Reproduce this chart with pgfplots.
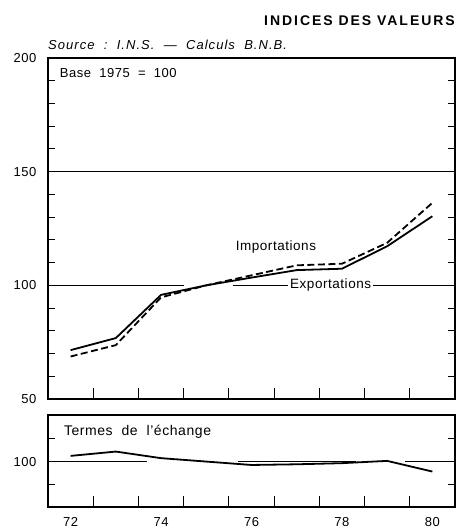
\documentclass[border=0pt]{standalone}
\usepackage{fontspec}
\setmainfont{Liberation Sans}[LetterSpace=4]
\usepackage{pgfplots}
\pgfplotsset{compat=1.18}
\begin{document}
\begin{tikzpicture}
\useasboundingbox (0,0) rectangle (456pt,531pt);
\pgfplotsset{
  panel/.style={
    anchor=south west, scale only axis, width=407pt,
    xmin=71.5, xmax=80.5,
    axis line style={line width=1.1pt},
    tick style={line width=1pt, black},
    tick align=inside,
    major tick length=11pt, minor tick length=7pt,
    xtick={72.5,73.5,74.5,75.5,76.5,77.5,78.5,79.5},
    xticklabels={},
    xtick pos=bottom, ytick pos=both,
    /pgf/number format/assume math mode=true,
    tick label style={font=\fontsize{13}{15}\selectfont},
    yticklabel style={xshift=-8pt},
  }
}
\begin{axis}[panel, at={(48pt,132pt)}, height=341pt,
  ymin=50, ymax=200,
  ytick={50,100,150,200},
  minor ytick={60,70,80,90,110,120,130,140,160,170,180,190},
]
\addplot[black, line width=0.9pt] coordinates {(71.5,150) (80.5,150)};
\addplot[black, line width=0.8pt] coordinates {(71.5,100) (74.5,100)};
\addplot[black, line width=0.8pt] coordinates {(75.6,100) (80.5,100)};
% Importations (dashed)
\addplot[black, line width=1.8pt, dash pattern=on 7pt off 3.5pt] coordinates {
(72,68.7) (73,73.7) (74,94.7) (75,100) (76,104.4) (77,108.8) (78,109.5) (79,118.7) (80,136.3)};
% Exportations (solid)
\addplot[black, line width=1.8pt] coordinates {
(72,71.5) (73,76.8) (74,95.8) (75,100) (76,103.4) (77,106.7) (78,107.3) (79,117.2) (80,130.4)};
\node[anchor=west, inner sep=0pt, font=\fontsize{13}{15}\selectfont] at (axis cs:71.76,193.2) {Base\ \ 1975\ \ =\ \ 100};
\node[font=\fontsize{13.5}{15}\selectfont] at (axis cs:76.54,116.7) {Importations};
\node[fill=white, inner sep=2pt, font=\fontsize{13.5}{15}\selectfont] at (axis cs:77.75,100) {Exportations};
\end{axis}
\begin{axis}[panel, at={(48pt,24pt)}, height=92pt,
  ymin=80, ymax=120.5,
  ytick={100}, minor ytick={90,110},
  extra x ticks={72,74,76,78,80},
  extra x tick style={major tick length=0pt, xticklabel style={yshift=-7pt}},
  extra x tick labels={72,74,76,78,80},
]
\addplot[black, line width=0.8pt] coordinates {(71.5,100) (73.7,100)};
\addplot[black, line width=0.8pt] coordinates {(75.7,100) (78.3,100)};
\addplot[black, line width=0.8pt] coordinates {(79.4,100) (80.5,100)};
\addplot[black, line width=1.8pt] coordinates {
(72,102.5) (73,104.4) (74,101.5) (75,100) (76,98.5) (77,98.8) (78,99.3) (79,100.3) (80,95.6)};
\node[anchor=west, inner sep=0pt, font=\fontsize{14}{16}\selectfont] at (axis cs:71.85,113) {Termes\ \ de\ \ l'échange};
\end{axis}
\node[anchor=base east, inner sep=0pt] at (455pt,505pt) {\fontsize{14}{16}\selectfont\bfseries\addfontfeature{LetterSpace=14}INDICES\ DES\ VALEURS};
\node[anchor=base west, inner sep=0pt] at (48pt,481pt) {\fontsize{13}{15}\selectfont\itshape\addfontfeature{LetterSpace=8}Source\ \ :\ \ I.N.S.\ \ —\ \ Calculs\ \ B.N.B.};
\end{tikzpicture}
\end{document}
